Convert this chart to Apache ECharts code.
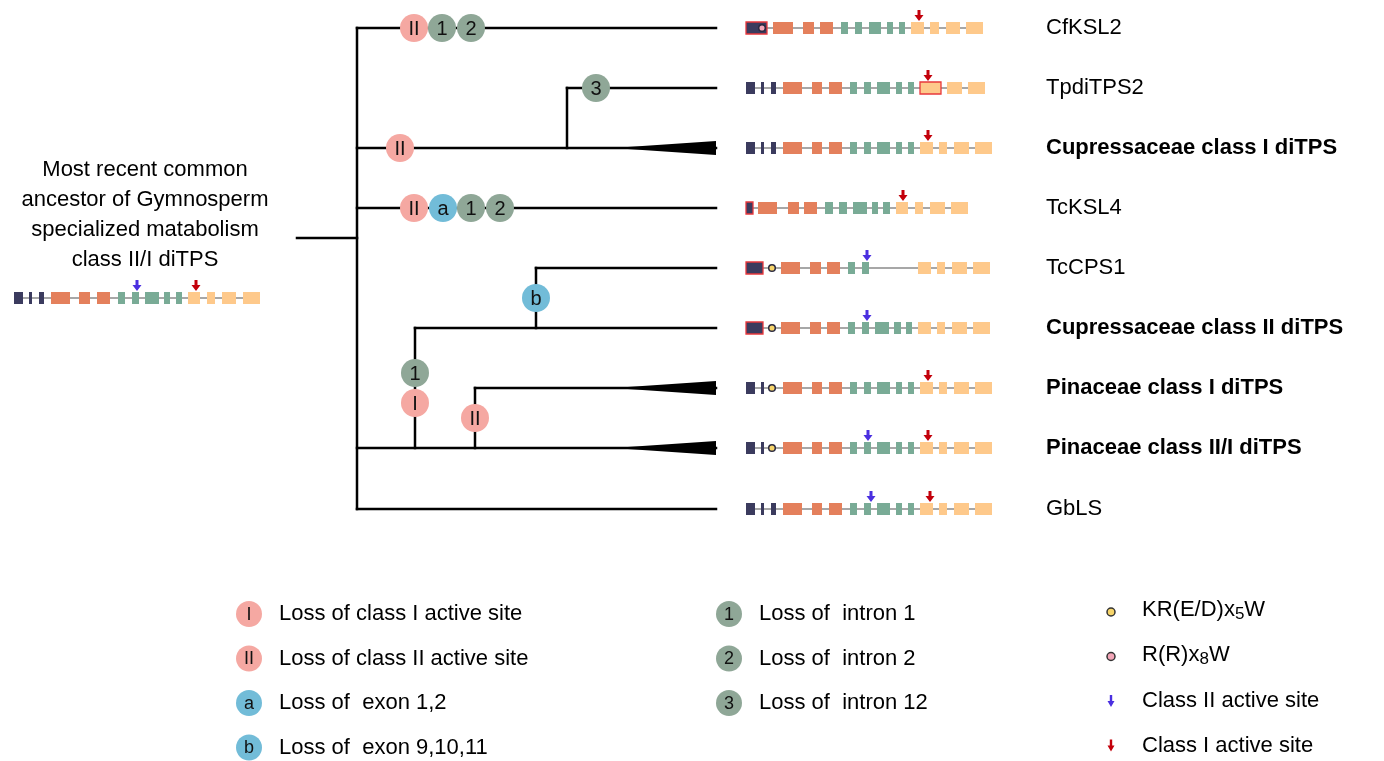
<!DOCTYPE html>
<html><head><meta charset="utf-8">
<script src="https://cdn.jsdelivr.net/npm/echarts@6/dist/echarts.min.js"></script>
<style>html,body{margin:0;padding:0;background:#fff}#c{width:1384px;height:761px}</style>
</head><body><div id="c"></div><script>
const FONT = "'Liberation Sans', Arial, Helvetica, sans-serif";

// ---------- DATA ----------
const leafNames = ['CfKSL2','TpdiTPS2','Cupressaceae class I diTPS','TcKSL4','TcCPS1','Cupressaceae class II diTPS','Pinaceae class I diTPS','Pinaceae class II/I diTPS','GbLS'];
const leafBold = [false,false,true,false,false,true,true,true,false];
const leafRows = [28,88,148,208,268,328,388,448,509];
const ancestorRow = 298;
const ancestorLabel = ['Most recent common','ancestor of Gymnosperm','specialized matabolism','class II/I diTPS'];

// tree branches [x1, y1, x2, y2]
const treeSegments = [
  [297,238,357,238],
  [357,28,357,509],
  [357,28,716,28],
  [357,148,716,148],
  [567,88,567,148],[567,88,716,88],
  [357,208,716,208],
  [357,448,716,448],
  [415,328,415,448],[415,328,716,328],
  [536,268,536,328],[536,268,716,268],
  [475,388,475,448],[475,388,716,388],
  [357,509,716,509]
];
// collapsed clades [xTip, xBase, y]
const cladeWedges = [[613,716,148],[613,716,388],[613,716,448]];
// events on branches [x, y, label, kind]
const events = [
  [414,28,'II','site'],[442,28,'1','intron'],[471,28,'2','intron'],
  [596,88,'3','intron'],
  [400,148,'II','site'],
  [414,208,'II','site'],[443,208,'a','exon'],[471,208,'1','intron'],[500,208,'2','intron'],
  [536,298,'b','exon'],
  [415,373,'1','intron'],[415,403,'I','site'],
  [475,418,'II','site']
];

// exon structures [start, end, type, redBorder]
const exonsAncestor = [[14,23,'d'],[29,32,'d'],[39,44,'d'],[51,70,'o'],[79,90,'o'],[97,110,'o'],[118,125,'g'],[132,139,'g'],[145,159,'g'],[164,170,'g'],[176,182,'g'],[188,200,'l'],[207,215,'l'],[222,236,'l'],[243,260,'l']];
const exonsCfKSL2 = [[746,767,'d',1],[773,793,'o'],[803,814,'o'],[820,833,'o'],[841,848,'g'],[855,862,'g'],[869,881,'g'],[887,893,'g'],[899,905,'g'],[911,924,'l'],[930,939,'l'],[946,960,'l'],[966,983,'l']];
const exonsTpdiTPS2 = [[746,755,'d'],[761,764,'d'],[771,776,'d'],[783,802,'o'],[812,822,'o'],[829,842,'o'],[850,857,'g'],[864,871,'g'],[877,890,'g'],[896,902,'g'],[908,914,'g'],[920,941,'l',1],[947,962,'l'],[968,985,'l']];
const exonsCupI = [[746,755,'d'],[761,764,'d'],[771,776,'d'],[783,802,'o'],[812,822,'o'],[829,842,'o'],[850,857,'g'],[864,871,'g'],[877,890,'g'],[896,902,'g'],[908,914,'g'],[920,933,'l'],[939,947,'l'],[954,969,'l'],[975,992,'l']];
const exonsTcKSL4 = [[746,753,'d',1],[758,777,'o'],[788,799,'o'],[804,817,'o'],[825,833,'g'],[839,847,'g'],[853,867,'g'],[872,878,'g'],[883,890,'g'],[896,908,'l'],[915,923,'l'],[930,945,'l'],[951,968,'l']];
const exonsTcCPS1 = [[746,763,'d',1],[781,800,'o'],[810,821,'o'],[827,840,'o'],[848,855,'g'],[862,869,'g'],[918,931,'l'],[937,945,'l'],[952,967,'l'],[973,990,'l']];
const exonsCupII = [[746,763,'d',1],[781,800,'o'],[810,821,'o'],[827,840,'o'],[848,855,'g'],[862,869,'g'],[875,889,'g'],[894,901,'g'],[906,912,'g'],[918,931,'l'],[937,945,'l'],[952,967,'l'],[973,990,'l']];
const exonsPinI = [[746,755,'d'],[761,764,'d'],[783,802,'o'],[812,822,'o'],[829,842,'o'],[850,857,'g'],[864,871,'g'],[877,890,'g'],[896,902,'g'],[908,914,'g'],[920,933,'l'],[939,947,'l'],[954,969,'l'],[975,992,'l']];
const exonsPinIII = [[746,755,'d'],[761,764,'d'],[783,802,'o'],[812,822,'o'],[829,842,'o'],[850,857,'g'],[864,871,'g'],[877,890,'g'],[896,902,'g'],[908,914,'g'],[920,933,'l'],[939,947,'l'],[954,969,'l'],[975,992,'l']];
const exonsGbLS = [[746,755,'d'],[761,764,'d'],[771,776,'d'],[783,802,'o'],[812,822,'o'],[829,842,'o'],[850,857,'g'],[864,871,'g'],[877,890,'g'],[896,902,'g'],[908,914,'g'],[920,933,'l'],[939,947,'l'],[954,969,'l'],[975,992,'l']];
const leafExons = [exonsCfKSL2, exonsTpdiTPS2, exonsCupI, exonsTcKSL4, exonsTcCPS1, exonsCupII, exonsPinI, exonsPinIII, exonsGbLS];

// motifs [x, row (-1 = ancestor), type]
const motifs = [[762,0,'RR'],[772,4,'KR'],[772,5,'KR'],[772,6,'KR'],[772,7,'KR']];
// active sites [x, row (-1 = ancestor), class]
const activeSites = [[137,-1,'II'],[196,-1,'I'],[919,0,'I'],[928,1,'I'],[928,2,'I'],[903,3,'I'],[867,4,'II'],[867,5,'II'],[928,6,'I'],[868,7,'II'],[928,7,'I'],[871,8,'II'],[930,8,'I']];

// legend
const legendEvents = [['I','site','Loss of class I active site'],['II','site','Loss of class II active site'],['a','exon','Loss of  exon 1,2'],['b','exon','Loss of  exon 9,10,11'],['1','intron','Loss of  intron 1'],['2','intron','Loss of  intron 2'],['3','intron','Loss of  intron 12']];
const legendSymbols = [['motif','KR','KR(E/D)x','5','W'],['motif','RR','R(R)x','8','W'],['arrow','II','Class II active site','',''],['arrow','I','Class I active site','','']];

// ---------- STYLE ----------
const exonColor = {d:'#3b3b5e', o:'#e4805c', g:'#79ab96', l:'#fec98b'};
const eventColor = {site:'#f5a8a2', intron:'#8fa797', exon:'#72bcd8'};
const motifColor = {KR:'#f7d56a', RR:'#f3a6b8'};
const arrowColor = {II:'#4a2fe0', I:'#c3000b'};
const rowY = r => r < 0 ? ancestorRow : leafRows[r];

// flatten genes
const geneSets = [[exonsAncestor, ancestorRow]].concat(leafExons.map((e,i)=>[e, leafRows[i]]));
const exonRows = [];
const intronRows = [];
geneSets.forEach(([ex, y]) => {
  intronRows.push([ex[0][0], ex[ex.length-1][1], y]);
  ex.forEach(e => exonRows.push([e[0], e[1], y, e[2], e[3] ? 1 : 0]));
});

// arrow pointing down, tip at (x, tipY)
function arrowPts(x, tipY, stemW, headW, stemH, headH) {
  const hb = tipY - headH, st = hb - stemH;
  return [[x-stemW/2,st],[x+stemW/2,st],[x+stemW/2,hb],[x+headW/2,hb],[x,tipY],[x-headW/2,hb],[x-stemW/2,hb]];
}

const chart = echarts.init(document.getElementById('c'), null, {renderer:'canvas'});
const base = {type:'custom', coordinateSystem:'cartesian2d', clip:false, silent:true, animation:false};

const series = [
  Object.assign({}, base, {
    name:'branches', data: treeSegments,
    renderItem: (p, api) => {
      const a = api.coord([api.value(0), api.value(1)]);
      const b = api.coord([api.value(2), api.value(3)]);
      return {type:'line', shape:{x1:a[0],y1:a[1],x2:b[0],y2:b[1]}, style:{stroke:'#000', lineWidth:2.5, lineCap:'square'}};
    }
  }),
  Object.assign({}, base, {
    name:'clades', data: cladeWedges,
    renderItem: (p, api) => {
      const a = api.coord([api.value(0), api.value(2)]);
      const b = api.coord([api.value(1), api.value(2)]);
      return {type:'polygon', shape:{points:[[a[0],a[1]],[b[0],b[1]-7],[b[0],b[1]+7]]}, style:{fill:'#000'}};
    }
  }),
  Object.assign({}, base, {
    name:'introns', data: intronRows,
    renderItem: (p, api) => {
      const a = api.coord([api.value(0), api.value(2)]);
      const b = api.coord([api.value(1), api.value(2)]);
      return {type:'line', shape:{x1:a[0],y1:a[1],x2:b[0],y2:b[1]}, style:{stroke:'#8a8a8a', lineWidth:1.5}};
    }
  }),
  Object.assign({}, base, {
    name:'exons', data: exonRows.map(r => [r[0], r[1], r[2]]),
    renderItem: (p, api) => {
      const r = exonRows[p.dataIndex];
      const a = api.coord([api.value(0), api.value(2)]);
      const b = api.coord([api.value(1), api.value(2)]);
      const st = {fill: exonColor[r[3]]};
      if (r[4]) { st.stroke = '#e8383d'; st.lineWidth = 1.3; }
      return {type:'rect', shape:{x:a[0], y:a[1]-6, width:b[0]-a[0], height:12}, style:st};
    }
  }),
  Object.assign({}, base, {
    name:'motifs', data: motifs.map(m => [m[0], rowY(m[1])]),
    renderItem: (p, api) => {
      const m = motifs[p.dataIndex];
      const c = api.coord([api.value(0), api.value(1)]);
      return {type:'circle', shape:{cx:c[0], cy:c[1], r:3.3}, style:{fill:motifColor[m[2]], stroke:'#2a2a40', lineWidth:1.5}};
    }
  }),
  Object.assign({}, base, {
    name:'activeSites', data: activeSites.map(s => [s[0], rowY(s[1])]),
    renderItem: (p, api) => {
      const s = activeSites[p.dataIndex];
      const c = api.coord([api.value(0), api.value(1)]);
      return {type:'polygon', shape:{points:arrowPts(c[0], c[1]-7, 3, 9, 5, 6)}, style:{fill:arrowColor[s[2]]}};
    }
  }),
  Object.assign({}, base, {
    name:'events', data: events.map(e => [e[0], e[1]]),
    renderItem: (p, api) => {
      const e = events[p.dataIndex];
      const c = api.coord([api.value(0), api.value(1)]);
      return {type:'group', children:[
        {type:'circle', shape:{cx:c[0], cy:c[1], r:14}, style:{fill:eventColor[e[3]]}},
        {type:'text', style:{text:e[2], x:c[0], y:c[1]+1, fill:'#111', font:'20px '+FONT, align:'center', verticalAlign:'middle', textAlign:'center', textVerticalAlign:'middle'}}
      ]};
    }
  }),
  Object.assign({}, base, {
    name:'leafLabels', data: leafRows.map(y => [1046, y]),
    renderItem: (p, api) => {
      const c = api.coord([api.value(0), api.value(1)]);
      return {type:'text', style:{text:leafNames[p.dataIndex], x:c[0], y:c[1], fill:'#000',
        font:(leafBold[p.dataIndex]?'bold ':'')+'22px '+FONT, align:'left', verticalAlign:'middle', textAlign:'left', textVerticalAlign:'middle'}};
    }
  }),
  Object.assign({}, base, {
    name:'ancestorLabel', data: ancestorLabel.map((t,i) => [145, 170 + i*30]),
    renderItem: (p, api) => {
      const c = api.coord([api.value(0), api.value(1)]);
      return {type:'text', style:{text:ancestorLabel[p.dataIndex], x:c[0], y:c[1], fill:'#000',
        font:'22px '+FONT, align:'center', verticalAlign:'middle', textAlign:'center', textVerticalAlign:'middle'}};
    }
  }),
  Object.assign({}, base, {
    name:'legendEvents', data: legendEvents.map((d,i) => [i < 4 ? 249 : 729, 614 + (i < 4 ? i : i-4)*44.5]),
    renderItem: (p, api) => {
      const d = legendEvents[p.dataIndex];
      const c = api.coord([api.value(0), api.value(1)]);
      return {type:'group', children:[
        {type:'circle', shape:{cx:c[0], cy:c[1], r:13}, style:{fill:eventColor[d[1]]}},
        {type:'text', style:{text:d[0], x:c[0], y:c[1]+1, fill:'#111', font:'18px '+FONT, align:'center', verticalAlign:'middle', textAlign:'center', textVerticalAlign:'middle'}},
        {type:'text', style:{text:d[2], x:c[0]+30, y:c[1], fill:'#000', font:'22px '+FONT, align:'left', verticalAlign:'middle', textAlign:'left', textVerticalAlign:'middle'}}
      ]};
    }
  }),
  Object.assign({}, base, {
    name:'legendSymbols', data: legendSymbols.map((d,i) => [1111, 610 + i*44.5]),
    renderItem: (p, api) => {
      const d = legendSymbols[p.dataIndex];
      const c = api.coord([api.value(0), api.value(1)]);
      let mark;
      if (d[0] === 'motif') {
        mark = {type:'circle', shape:{cx:c[0], cy:c[1]+2, r:4}, style:{fill:motifColor[d[1]], stroke:'#333', lineWidth:1.5}};
      } else {
        mark = {type:'polygon', shape:{points:arrowPts(c[0], c[1]+8, 2.4, 7, 6, 6)}, style:{fill:arrowColor[d[1]]}};
      }
      let txt;
      if (d[3]) {
        txt = {type:'text', style:{text:'{a|'+d[2]+'}{s|'+d[3]+'}{a|'+d[4]+'}', x:c[0]+31, y:c[1], fill:'#000', align:'left', verticalAlign:'middle', textAlign:'left', textVerticalAlign:'middle',
          rich:{a:{font:'22px '+FONT, fill:'#000', lineHeight:26}, s:{font:'17px '+FONT, fill:'#000', lineHeight:12, verticalAlign:'bottom'}}}};
      } else {
        txt = {type:'text', style:{text:d[2], x:c[0]+31, y:c[1]+2, fill:'#000', font:'22px '+FONT, align:'left', verticalAlign:'middle', textAlign:'left', textVerticalAlign:'middle'}};
      }
      return {type:'group', children:[mark, txt]};
    }
  })
];

chart.setOption({
  backgroundColor:'#ffffff',
  animation:false,
  grid:{left:0, right:0, top:0, bottom:0},
  xAxis:{type:'value', min:0, max:1384, show:false},
  yAxis:{type:'value', min:0, max:761, inverse:true, show:false},
  series: series
});
</script></body></html>
